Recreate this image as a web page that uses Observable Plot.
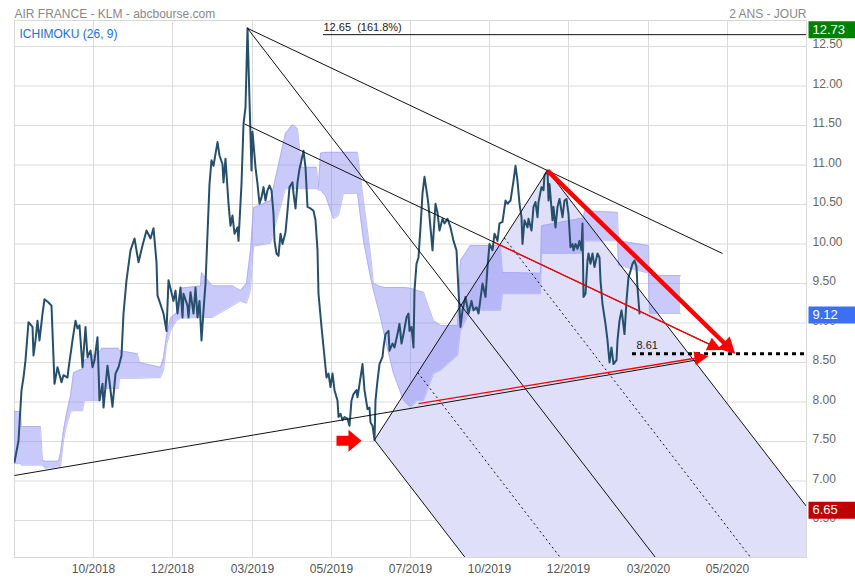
<!DOCTYPE html>
<html><head><meta charset="utf-8">
<script src="https://cdn.jsdelivr.net/npm/d3@7"></script>
<script src="https://cdn.jsdelivr.net/npm/@observablehq/plot@0.6"></script>
<style>body{margin:0;background:#fff;font-family:"Liberation Sans",Arial,sans-serif}</style>
</head><body><div id="chart"></div>
<script>
// ---- texts
const title = "AIR FRANCE - KLM - abcbourse.com";
const period = "2 ANS - JOUR";
const indicator = "ICHIMOKU (26, 9)";
// ---- axes (x = session index)
const xDomain = [0, 792];
const yDomain = [6.032, 12.829];
const tickSessions = [79, 158, 238, 317, 396, 475, 554, 634, 713];
const tickLabels = ["10/2018","12/2018","03/2019","05/2019","07/2019","10/2019","12/2019","03/2020","05/2020"];
const yTicks = [6.5,7,7.5,8,8.5,9,9.5,10,10.5,11,11.5,12,12.5];
// ---- closing prices
const priceSession = [0,4,7,9,11,14,18,19,21,23,25,28,30,34,37,40,43,47,49,53,54,58,61,63,65,68,71,73,76,78,80,83,85,88,89,93,96,98,101,104,107,109,112,116,120,124,128,132,136,139,142,143,149,152,154,159,161,163,166,168,169,173,174,176,179,181,183,185,187,189,191,193,195,197,199,201,203,205,208,209,211,214,216,218,220,223,224,227,229,231,233,235,237,238,241,243,245,247,249,251,253,255,257,259,260,262,264,266,268,271,273,275,278,279,281,283,285,287,289,291,292,293,296,299,301,303,304,307,310,312,314,316,318,320,323,324,326,328,330,333,335,337,339,342,343,346,348,350,353,355,356,358,360,361,363,365,368,369,371,374,375,378,380,383,385,387,389,392,394,395,397,399,400,402,404,406,408,410,413,414,418,421,423,425,428,430,433,436,439,442,444,446,448,451,454,457,459,462,464,468,471,473,475,478,480,483,485,488,491,493,496,499,501,503,505,507,508,510,513,514,517,519,521,523,524,527,529,530,533,534,535,538,539,541,543,545,548,550,552,554,556,558,559,561,563,565,567,568,569,571,573,574,576,578,580,583,585,586,588,591,593,595,597,599,602,603,605,607,608,610,612,614,616,618,620,622,623,625];
const priceClose = [7.24,7.51,8.15,8.31,8.53,9.01,8.95,8.59,8.78,9.03,8.78,9.12,9.30,9.26,9.22,8.23,8.44,8.25,8.34,8.31,8.42,8.78,9.03,8.93,8.97,8.44,8.95,8.57,8.65,8.44,8.53,8.82,8.02,8.23,7.93,8.46,8.15,7.94,8.36,8.44,8.59,9.12,9.54,9.92,10.07,9.77,9.98,10.17,10.07,10.20,9.77,9.35,9.12,8.90,9.54,9.28,9.41,9.12,9.45,9.07,9.37,9.22,9.07,9.39,9.12,9.45,9.07,9.28,8.78,9.16,9.50,10.13,10.76,11.06,10.99,11.14,11.29,11.12,11.01,10.78,11.08,10.51,10.23,10.36,10.13,10.21,10.04,10.76,11.52,11.73,12.73,11.82,10.93,11.42,10.97,10.76,10.51,10.59,10.72,10.55,10.68,10.74,10.68,10.38,10.04,9.88,9.85,10.13,10.00,10.15,10.42,10.72,10.78,10.64,10.45,10.78,10.95,11.06,11.18,10.97,10.72,10.47,10.45,10.42,10.30,9.92,9.37,8.95,8.57,8.31,8.36,8.19,8.36,8.15,8.02,7.81,7.85,7.77,7.81,7.79,7.70,8.02,8.10,8.15,8.06,8.31,8.48,8.15,7.91,7.93,7.74,7.70,7.52,8.02,8.27,8.48,8.57,8.69,8.86,8.90,8.65,8.74,8.69,8.86,8.99,8.74,8.86,9.07,9.12,8.90,8.95,8.69,9.41,9.75,9.83,10.21,10.64,10.85,10.59,10.49,9.92,10.51,10.40,10.17,10.32,10.26,10.32,10.21,10.04,9.92,9.41,8.95,9.16,9.33,9.12,9.28,9.16,9.20,9.12,9.50,9.33,9.71,10.00,9.92,10.13,10.04,10.26,10.28,10.55,10.51,10.55,10.80,10.99,10.80,10.51,10.34,10.00,10.30,10.21,10.32,10.17,10.47,10.53,10.34,10.53,10.72,10.68,10.87,10.93,10.55,10.76,10.30,10.47,10.21,10.47,10.57,10.34,10.55,10.57,10.38,9.96,10.00,9.92,10.00,9.94,10.04,9.92,10.26,9.33,9.37,9.79,9.88,9.75,9.88,9.71,9.88,9.83,9.54,9.24,8.99,8.78,8.50,8.69,8.48,8.53,8.78,9.03,9.16,9.07,8.86,9.28,9.58,9.66,9.75,9.79,9.71,9.45,9.12];
// ---- Ichimoku cloud (kumo)
const kumoSession = [0,6,7,26,28,31,44,46,49,52,56,59,68,70,86,87,104,105,123,125,146,149,152,156,162,166,186,187,198,218,226,232,236,239,256,271,278,283,287,302,304,306,311,319,324,329,343,349,356,359,366,371,379,389,396,403,409,419,426,443,446,456,486,488,526,527,569,570,603,604,634,635,666];
const kumoUpper = [7.88,7.88,7.69,7.69,7.26,7.25,7.25,7.35,7.64,7.85,8.08,8.37,8.42,8.53,8.65,8.68,8.68,8.65,8.61,8.50,8.44,8.56,8.84,9.06,9.13,9.44,9.47,9.64,9.47,9.47,9.41,9.50,9.92,10.46,10.55,11.40,11.51,11.46,10.97,10.97,10.72,11.15,11.16,11.16,11.16,11.16,11.16,10.55,9.88,9.50,9.46,9.45,9.45,9.45,9.44,9.41,9.39,9.03,8.97,8.97,9.79,9.98,9.98,9.64,9.63,10.23,10.33,10.42,10.40,10.04,9.98,9.60,9.60];
const kumoLower = [7.22,7.22,7.20,7.20,7.20,7.16,7.18,7.18,7.51,7.70,7.87,7.89,7.89,8.02,8.02,8.17,8.17,8.30,8.30,8.30,8.31,8.40,8.72,8.90,9.03,9.06,9.07,9.07,9.07,9.22,9.28,9.25,9.41,9.97,10.01,10.70,10.70,10.70,10.70,10.70,10.68,10.68,10.61,10.32,10.36,10.64,10.64,10.04,9.58,9.41,9.07,8.78,8.36,8.02,7.93,8.02,8.02,8.36,8.40,8.59,8.90,9.16,9.16,9.37,9.37,9.88,9.88,10.04,10.04,9.73,9.63,9.12,9.12];
// ---- Andrews pitchfork pivots: high, low, high
const pivotSession = [233, 360, 533];
const pivotPrice = [12.73, 7.52, 10.93];
// ---- channel parallel to the high-to-high line
const channelSession = [230, 697];
const channelStartPrice = 11.52;
const trendEndSession = 708;
// ---- long support line
const supportSession = [0, 686];
const supportPrice = [7.07, 8.54];
// ---- red target arrows [fromSession, fromPrice, toSession, toPrice]
const bigArrow = [533, 10.93, 720, 8.62];
const channelArrowSession = [480, 706];
const supportArrow = [404, 7.98, 693, 8.58];
// ---- levels
const fibPrice = 12.65, fibSession = 309, fibLabel = "12.65\u00a0 (161.8%)";
const targetPrice = 8.61, targetSession = 618, targetLabel = "8.61";
const markerSession = [334], markerPrice = [7.51];
const lastBoxes = [{v: 12.73, label: "12.73", color: "#008000"}, {v: 9.12, label: "9.12", color: "#3b6ff5"}, {v: 6.65, label: "6.65", color: "#c00000"}];

// ---- layout
const W = 855, H = 580, mT = 20, mB = 23, mL = 14, mR = 49;
const kx = (W - mL - mR) / (xDomain[1] - xDomain[0]);
const ky = (H - mT - mB) / (yDomain[1] - yDomain[0]);

// ---- derived geometry
const price = priceSession.map((t, i) => ({t, v: priceClose[i]}));
const kumo = kumoSession.map((t, i) => ({t, hi: kumoUpper[i], lo: kumoLower[i]}));
const P = pivotSession.map((t, i) => ({t, v: pivotPrice[i]}));
const [A, B, C] = P;
const M = {t: (B.t + C.t) / 2, v: (B.v + C.v) / 2};
const d = {t: M.t - A.t, v: M.v - A.v};
const ext = (p, k) => ({t: p.t + k * d.t, v: p.v + k * d.v});
const Q1 = {t: (B.t + M.t) / 2, v: (B.v + M.v) / 2};
const Q2 = {t: (M.t + C.t) / 2, v: (M.v + C.v) / 2};
const solidFork = [[A, ext(A, 4)], [B, ext(B, 4)], [C, ext(C, 4)], [B, C]];
const dottedFork = [[Q1, ext(Q1, 4)], [Q2, ext(Q2, 4)]];
const shade = [B, C, ext(C, 4), ext(B, 4)];
const slopeAC = (C.v - A.v) / (C.t - A.t);
const trendAC = [A, {t: trendEndSession, v: A.v + slopeAC * (trendEndSession - A.t)}];
const chanAt = t => channelStartPrice + slopeAC * (t - channelSession[0]);
const channel = channelSession.map(t => ({t, v: chanAt(t)}));
const support = supportSession.map((t, i) => ({t, v: supportPrice[i]}));
const seg = (lines) => lines.map(([p, q]) => ({x1: p.t, y1: p.v, x2: q.t, y2: q.v}));
const target = [{t: targetSession, v: targetPrice, label: targetLabel}];

// arrows: shaft shortened by `back` pixels, head as a rotated filled triangle
function arrowParts(x1, y1, x2, y2, back) {
  const sx = (x2 - x1) * kx, sy = -(y2 - y1) * ky;
  const len = Math.hypot(sx, sy);
  const ang = Math.atan2(sy, sx) * 180 / Math.PI;
  const f = (len - back) / len;
  return {x1, y1, x2: x1 + (x2 - x1) * f, y2: y1 + (y2 - y1) * f, hx: x2, hy: y2, angle: ang};
}
const chA = arrowParts(channelArrowSession[0], chanAt(channelArrowSession[0]), channelArrowSession[1], chanAt(channelArrowSession[1]), 8);
const spA = arrowParts(supportArrow[0], supportArrow[1], supportArrow[2], supportArrow[3], 8);
const bgA = arrowParts(bigArrow[0], bigArrow[1], bigArrow[2], bigArrow[3], 9);
const thinArrows = [chA, spA];

const headSmall = {draw(ctx) { ctx.moveTo(1, 0); ctx.lineTo(-13, -7); ctx.lineTo(-13, 7); ctx.closePath(); }};
const headBig = {draw(ctx) { ctx.moveTo(1, 0); ctx.lineTo(-15, -8.5); ctx.lineTo(-15, 8.5); ctx.closePath(); }};
const boxSymbol = {draw(ctx) { ctx.rect(-23.5, -8.5, 47, 17); }};
const blockArrow = {draw(ctx) { ctx.moveTo(-12,-5); ctx.lineTo(0,-5); ctx.lineTo(0,-11); ctx.lineTo(13,0); ctx.lineTo(0,11); ctx.lineTo(0,5); ctx.lineTo(-12,5); ctx.closePath(); }};

const chart = Plot.plot({
  width: W, height: H,
  marginTop: mT, marginBottom: mB, marginLeft: mL, marginRight: mR,
  x: {domain: xDomain, axis: null},
  y: {domain: yDomain, axis: null},
  style: {fontFamily: "'Liberation Sans', Arial, sans-serif", fontSize: "12px", background: "#fff"},
  marks: [
    Plot.gridX(tickSessions, {stroke: "#dcdcdc", strokeOpacity: 1}),
    Plot.gridY(yTicks, {stroke: "#dcdcdc", strokeOpacity: 1}),
    Plot.frame({stroke: "#d8d8d8"}),
    Plot.line(shade, {x: "t", y: "v", fill: "#dfdffa", stroke: "none", clip: true}),
    Plot.areaY(kumo, {x: "t", y1: "lo", y2: "hi", fill: "#7a7af2", fillOpacity: 0.4, clip: true}),
    Plot.line(kumo, {x: "t", y: "hi", stroke: "#a5a5f5", strokeWidth: 0.7, clip: true}),
    Plot.line(kumo, {x: "t", y: "lo", stroke: "#a5a5f5", strokeWidth: 0.7, clip: true}),
    Plot.line(price, {x: "t", y: "v", stroke: "#264f6b", strokeWidth: 2, clip: true}),
    Plot.link(seg(solidFork), {x1: "x1", y1: "y1", x2: "x2", y2: "y2", stroke: "#111", strokeWidth: 1, clip: true}),
    Plot.link(seg(dottedFork), {x1: "x1", y1: "y1", x2: "x2", y2: "y2", stroke: "#111", strokeWidth: 1, strokeDasharray: "2,3", clip: true}),
    Plot.link(seg([trendAC]), {x1: "x1", y1: "y1", x2: "x2", y2: "y2", stroke: "#111", strokeWidth: 1, clip: true}),
    Plot.link(seg([channel]), {x1: "x1", y1: "y1", x2: "x2", y2: "y2", stroke: "#111", strokeWidth: 1, clip: true}),
    Plot.link(seg([support]), {x1: "x1", y1: "y1", x2: "x2", y2: "y2", stroke: "#111", strokeWidth: 1, clip: true}),
    Plot.ruleY([fibPrice], {x1: fibSession, x2: xDomain[1], stroke: "#111", strokeWidth: 1}),
    Plot.text([fibLabel], {x: fibSession, y: fibPrice, dy: -7, textAnchor: "start", fontSize: 11, fill: "#222"}),
    Plot.ruleY(target, {y: "v", x1: "t", x2: xDomain[1], stroke: "#000", strokeWidth: 3, strokeDasharray: "4,4"}),
    Plot.text(target, {x: "t", y: "v", text: "label", dx: 4, dy: -8, textAnchor: "start", fontSize: 11, fill: "#222"}),
    Plot.link(thinArrows, {x1: "x1", y1: "y1", x2: "x2", y2: "y2", stroke: "#ff0000", strokeWidth: 1.3}),
    Plot.link([bgA], {x1: "x1", y1: "y1", x2: "x2", y2: "y2", stroke: "#ff0000", strokeWidth: 4.5}),
    Plot.dot(thinArrows, {x: "hx", y: "hy", rotate: "angle", symbol: headSmall, fill: "#ff0000", stroke: "none"}),
    Plot.dot([bgA], {x: "hx", y: "hy", rotate: "angle", symbol: headBig, fill: "#ff0000", stroke: "none"}),
    Plot.dot(markerSession, {x: d => d, y: (d, i) => markerPrice[i], symbol: blockArrow, fill: "#ff0000", stroke: "none"}),
    Plot.axisX(tickSessions, {tickSize: 0, tickPadding: 7, tickFormat: d => tickLabels[tickSessions.indexOf(d)], fill: "#555", fontSize: 12, label: null}),
    Plot.axisY(yTicks, {anchor: "right", tickSize: 0, tickPadding: 6, dy: -2, tickFormat: d => d.toFixed(2), fill: "#666", fontSize: 12, label: null}),
    Plot.dot(lastBoxes, {y: "v", frameAnchor: "right", dx: 25.5, dy: 1.5, symbol: boxSymbol, fill: "color", stroke: "none"}),
    Plot.text(lastBoxes, {y: "v", text: "label", frameAnchor: "right", dx: 6, dy: 1.5, textAnchor: "start", fill: "#fff", fontSize: 13}),
    Plot.text([title], {frameAnchor: "top-left", dy: -11, textAnchor: "start", fill: "#888", fontSize: 12}),
    Plot.text([period], {frameAnchor: "top-right", dy: -11, textAnchor: "end", fill: "#888", fontSize: 12}),
    Plot.text([indicator], {frameAnchor: "top-left", dx: 5, dy: 9, textAnchor: "start", fill: "#1f6fd1", fontSize: 12})
  ]
});
document.getElementById("chart").append(chart);
</script></body></html>
